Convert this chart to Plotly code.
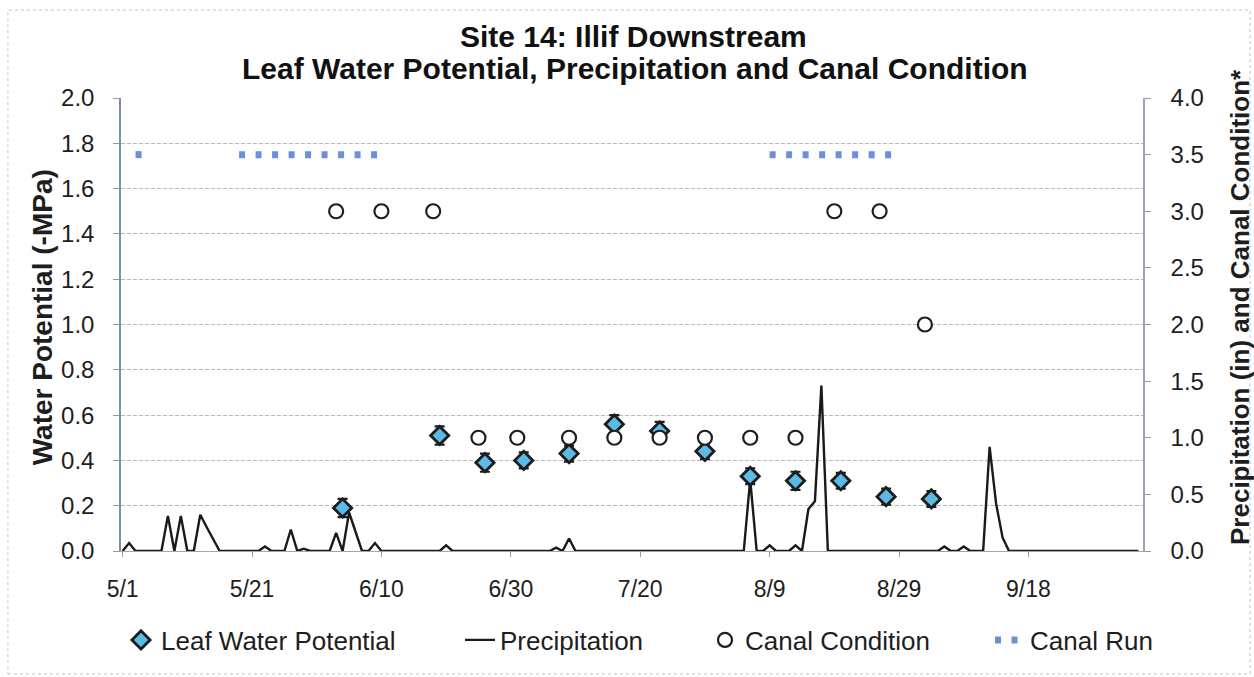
import plotly.graph_objects as go

# ---------------- data ----------------
tick_dates = ["2008-05-01", "2008-05-21", "2008-06-10", "2008-06-30",
              "2008-07-20", "2008-08-09", "2008-08-29", "2008-09-18"]
tick_labels = ["5/1", "5/21", "6/10", "6/30", "7/20", "8/9", "8/29", "9/18"]

lwp_dates = ["2008-06-04", "2008-06-19", "2008-06-26", "2008-07-02", "2008-07-09",
             "2008-07-16", "2008-07-23", "2008-07-30", "2008-08-06", "2008-08-13",
             "2008-08-20", "2008-08-27", "2008-09-03"]
lwp_values = [0.19, 0.51, 0.39, 0.40, 0.43, 0.56, 0.53, 0.44, 0.33, 0.31, 0.31, 0.24, 0.23]
lwp_errors = [0.04, 0.04, 0.04, 0.035, 0.035, 0.04, 0.04, 0.035, 0.035, 0.04, 0.035, 0.035, 0.035]

canal_dates = ["2008-06-03", "2008-06-10", "2008-06-18", "2008-06-25", "2008-07-01",
               "2008-07-09", "2008-07-16", "2008-07-23", "2008-07-30", "2008-08-06",
               "2008-08-13", "2008-08-19", "2008-08-26", "2008-09-02"]
canal_values = [3, 3, 3, 1, 1, 1, 1, 1, 1, 1, 1, 3, 3, 2]

precip_dates = ["2008-05-01", "2008-05-02", "2008-05-03", "2008-05-07", "2008-05-08",
                "2008-05-09", "2008-05-10", "2008-05-11", "2008-05-12", "2008-05-13",
                "2008-05-14", "2008-05-15", "2008-05-16", "2008-05-22", "2008-05-23",
                "2008-05-24", "2008-05-26", "2008-05-27", "2008-05-28", "2008-05-29",
                "2008-05-30", "2008-06-02", "2008-06-03", "2008-06-04", "2008-06-05",
                "2008-06-06", "2008-06-07", "2008-06-08", "2008-06-09", "2008-06-10",
                "2008-06-19", "2008-06-20", "2008-06-21", "2008-07-06", "2008-07-07",
                "2008-07-08", "2008-07-09", "2008-07-10", "2008-08-05", "2008-08-06",
                "2008-08-07", "2008-08-08", "2008-08-09", "2008-08-10", "2008-08-12",
                "2008-08-13", "2008-08-14", "2008-08-15", "2008-08-16", "2008-08-17",
                "2008-08-18", "2008-09-04", "2008-09-05", "2008-09-06", "2008-09-07",
                "2008-09-08", "2008-09-09", "2008-09-11", "2008-09-12", "2008-09-13",
                "2008-09-14", "2008-09-15", "2008-10-05"]
precip_values = [0, 0.07, 0, 0, 0.31,
                 0, 0.31, 0, 0, 0.32,
                 0.21, 0.10, 0, 0, 0.04,
                 0, 0, 0.19, 0, 0.02,
                 0, 0, 0.16, 0, 0.34,
                 0.17, 0, 0, 0.07, 0,
                 0, 0.05, 0, 0, 0.03,
                 0, 0.11, 0, 0, 0.63,
                 0, 0, 0.05, 0, 0,
                 0.05, 0, 0.37, 0.44, 1.46,
                 0, 0, 0.04, 0, 0,
                 0.04, 0, 0, 0.92, 0.42,
                 0.12, 0, 0]

canal_run_starts = ["2008-05-03", "2008-05-19", "2008-08-09"]
canal_run_ends = ["2008-05-04", "2008-06-10", "2008-08-28"]
canal_run_level = 3.5

# ---------------- figure ----------------
FONT = "Liberation Sans, Arial, sans-serif"
TXT = "#1e1e1e"

fig = go.Figure()

# precipitation (right scale, bottom layer)
fig.add_trace(go.Scatter(
    x=precip_dates, y=precip_values, mode="lines", name="Precipitation",
    line=dict(color="#1a1a1a", width=2.4), yaxis="y", legend="legend2"))

# leaf water potential (left scale)
fig.add_trace(go.Scatter(
    x=lwp_dates, y=lwp_values, mode="markers", name="Leaf Water Potential",
    marker=dict(symbol="diamond", size=14, color="#5bbbe6",
                line=dict(color="#1c1c1c", width=2.8)),
    error_y=dict(type="data", array=lwp_errors, color="#1c1c1c", thickness=2.2, width=5),
    yaxis="y2", legend="legend"))

# canal condition (right scale, top layer)
fig.add_trace(go.Scatter(
    x=canal_dates, y=canal_values, mode="markers", name="Canal Condition",
    marker=dict(symbol="circle", size=14, color="white",
                line=dict(color="#1e1e1e", width=2.2)),
    yaxis="y3", legend="legend3"))

# canal run periods
for i, (s, e) in enumerate(zip(canal_run_starts, canal_run_ends)):
    fig.add_trace(go.Scatter(
        x=[s, e], y=[canal_run_level, canal_run_level], mode="lines",
        name="Canal Run", legendgroup="run", showlegend=(i == 0),
        line=dict(color="#6d8fdb", width=7, dash="6px,10.5px"),
        yaxis="y3", legend="legend4"))

title1 = "Site 14: Illif Downstream"
title2 = "Leaf Water Potential, Precipitation and Canal Condition"
left_title = "Water Potential (-MPa)"
right_title = "Precipitation (in) and Canal Condition*"


def legend_box(x_px):
    return dict(orientation="h", xref="container", yref="container",
                x=x_px / 1254, xanchor="left", y=1 - 640 / 677, yanchor="middle",
                font=dict(size=26, family=FONT, color=TXT),
                bgcolor="rgba(0,0,0,0)", borderwidth=0)


fig.update_layout(
    width=1254, height=677,
    margin=dict(l=121, r=111, t=98, b=126, autoexpand=False),
    paper_bgcolor="white", plot_bgcolor="white",
    font=dict(family=FONT, color=TXT, size=22),
    showlegend=True,
    legend=legend_box(121),
    legend2=legend_box(460),
    legend3=legend_box(705),
    legend4=legend_box(990),
    xaxis=dict(type="date", range=["2008-04-30 18:00", "2008-10-05 17:00"],
               tickvals=tick_dates, ticktext=tick_labels,
               ticks="outside", ticklen=5, tickcolor="#9a9a9a",
               showline=True, linecolor="#a5a5a5", linewidth=1,
               showgrid=False, zeroline=False, automargin=False,
               tickfont=dict(size=23, color=TXT), ticklabelstandoff=12),
    yaxis=dict(range=[0, 4], side="right", dtick=0.5, tickformat=".1f",
               showgrid=False, zeroline=False, automargin=False,
               showline=True, linecolor="#9aa3b3", linewidth=1.5,
               ticks="outside", ticklen=6, tickcolor="#9a9a9a",
               tickfont=dict(size=24, color=TXT), ticklabelstandoff=15),
    yaxis2=dict(range=[0, 2], side="left", overlaying="y", dtick=0.2, tickformat=".1f",
                showgrid=True, gridcolor="#b8b8b8", griddash="4px,2px", gridwidth=1,
                zeroline=False, automargin=False,
                showline=True, linecolor="#7f8da6", linewidth=1.5,
                ticks="outside", ticklen=6, tickcolor="#9a9a9a",
                tickfont=dict(size=24, color=TXT), ticklabelstandoff=14),
    yaxis3=dict(range=[0, 4], overlaying="y", visible=False),
    annotations=[
        dict(text="<b>" + title1 + "</b>", xref="paper", yref="paper",
             x=0.5015, y=1.1347, xanchor="center", yanchor="middle", showarrow=False,
             font=dict(size=30, family=FONT, color="#111")),
        dict(text="<b>" + title2 + "</b>", xref="paper", yref="paper",
             x=0.5034, y=1.0662, xanchor="center", yanchor="middle", showarrow=False,
             font=dict(size=30, family=FONT, color="#111")),
        dict(text="<b>" + left_title + "</b>", xref="paper", yref="paper",
             x=-0.0773, y=0.5159, xanchor="center", yanchor="middle", showarrow=False,
             textangle=-90, font=dict(size=28, family=FONT, color=TXT)),
        dict(text="<b>" + right_title + "</b>", xref="paper", yref="paper",
             x=1.0949, y=0.5386, xanchor="center", yanchor="middle", showarrow=False,
             textangle=-90, font=dict(size=26, family=FONT, color=TXT)),
    ],
    shapes=[
        dict(type="rect", xref="paper", yref="paper",
             x0=-0.1106, x1=1.1047, y0=-0.2715, y1=1.194,
             line=dict(color="#c4c4c4", width=1, dash="dot"), layer="below"),
    ],
)

fig.write_html("out.html",
               config={"displayModeBar": False},
               post_script="document.body.style.margin='0px';"
                           "document.body.style.overflow='hidden';")
